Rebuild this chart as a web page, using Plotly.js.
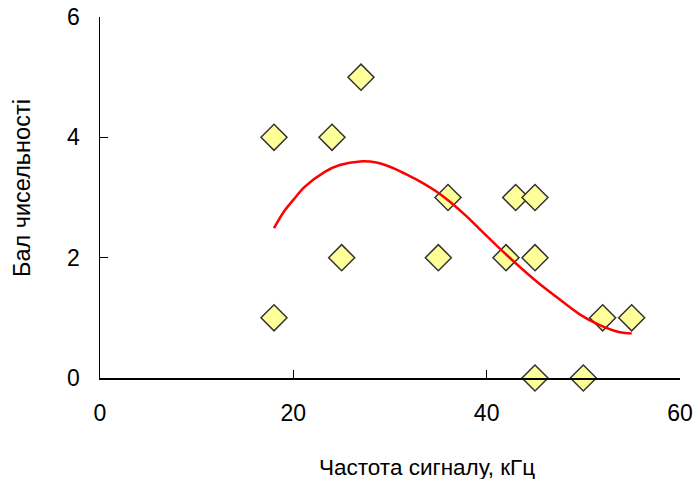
<!DOCTYPE html>
<html>
<head>
<meta charset="utf-8">
<script src="https://cdn.plot.ly/plotly-3.0.1.min.js"></script>
<style>html,body{margin:0;padding:0;background:#fff;}#chart{width:696px;height:479px;}</style>
</head>
<body>
<div id="chart"></div>
<script>
// Observed data points
var freqX = [18, 18, 24, 27, 25, 36, 35, 42, 43, 45, 45, 45, 50, 52, 55];
var scoreY = [4, 1, 4, 5, 2, 3, 2, 2, 3, 3, 2, 0, 0, 1, 1];

// Trend line
var trendX = [18, 19, 20, 21.2, 23.3, 24.8, 26.9, 28.6, 30.3, 32.1, 33.4, 34.8, 36.2, 37.9, 39.3, 42.1, 45.2, 47.2, 49.7, 51.7, 53.8, 55];
var trendY = [2.49, 2.76, 2.96, 3.18, 3.43, 3.54, 3.60, 3.58, 3.49, 3.35, 3.24, 3.10, 2.93, 2.69, 2.47, 2.04, 1.60, 1.35, 1.05, 0.88, 0.76, 0.74];

var xTicks = [0, 20, 40, 60];
var yTicks = [0, 2, 4, 6];
var xTitle = 'Частота сигналу, кГц';
var yTitle = 'Бал чисельності';

var font = "Liberation Sans, Arial, sans-serif";

var traces = [
  {
    x: freqX, y: scoreY, type: 'scatter', mode: 'markers',
    marker: {symbol: 'diamond', size: 20, color: '#ffff99', line: {color: '#333333', width: 1.5}},
    hoverinfo: 'skip', cliponaxis: false
  },
  {
    x: trendX, y: trendY, type: 'scatter', mode: 'lines',
    line: {color: '#ff0000', width: 2.5, shape: 'spline'},
    hoverinfo: 'skip'
  }
];

var layout = {
  width: 696, height: 479,
  margin: {l: 100, r: 16, t: 17, b: 101},
  paper_bgcolor: '#fff', plot_bgcolor: '#fff',
  showlegend: false,
  font: {family: font, color: '#000', size: 22},
  xaxis: {
    range: [0, 60], tickvals: xTicks, ticktext: xTicks.map(String),
    showgrid: false, zeroline: false, showline: true, linecolor: '#000', linewidth: 1.5,
    ticks: 'inside', ticklen: 8, tickcolor: '#000', tickwidth: 1.5,
    ticklabelstandoff: 14,
    tickfont: {size: 23, family: font}
  },
  yaxis: {
    range: [0, 6], tickvals: yTicks, ticktext: yTicks.map(String),
    showgrid: false, zeroline: false, showline: true, linecolor: '#000', linewidth: 1.5,
    ticks: 'inside', ticklen: 8, tickcolor: '#000', tickwidth: 1.5,
    ticklabelstandoff: 14,
    tickfont: {size: 23, family: font}
  },
  annotations: [
    {text: xTitle, xref: 'paper', yref: 'paper', x: (427 - 100) / 580, y: -(467 - 378) / 361,
     xanchor: 'center', yanchor: 'middle', showarrow: false, font: {size: 22.5, family: font}},
    {text: yTitle, xref: 'paper', yref: 'paper', x: -(100 - 22) / 580, y: (378 - 188) / 361,
     xanchor: 'center', yanchor: 'middle', textangle: -90, showarrow: false, font: {size: 23.5, family: font}}
  ]
};

Plotly.newPlot('chart', traces, layout, {staticPlot: true, displayModeBar: false});
</script>
</body>
</html>
